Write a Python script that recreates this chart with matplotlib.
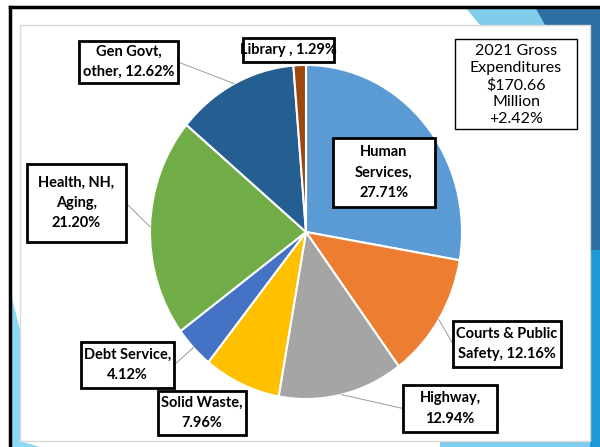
import matplotlib

matplotlib.use("Agg")
import matplotlib.pyplot as plt
import numpy as np
from matplotlib.patches import Polygon, Rectangle

# data
names = ["Human\nServices", "Courts & Public\nSafety", "Highway", "Solid Waste",
         "Debt Service", "Health, NH,\nAging", "Gen Govt,\nother", "Library "]
seps = ["\n", " ", "\n", "\n", "\n", "\n", " ", " "]
shares = [27.71, 12.16, 12.94, 7.96, 4.12, 21.20, 12.62, 1.29]
colors = ["#5B9BD5", "#ED7D31", "#A5A5A5", "#FFC000",
          "#4472C4", "#70AD47", "#255E91", "#9E480E"]
# label boxes in screen pixels: left, top, right, bottom
boxes = [(333, 138, 435, 207), (453, 321, 561, 367), (403, 385, 497, 432),
         (158, 391, 246, 435), (81, 342, 174, 388), (27, 164, 126, 242),
         (79, 41, 178, 83), (243, 38, 334, 62)]
leaders = [False, True, True, False, True, True, True, False]
note = "2021 Gross\nExpenditures\n$170.66\nMillion\n+2.42%"

W, H = 600, 447
fig = plt.figure(figsize=(W / 100, H / 100), dpi=100)
fig.patch.set_facecolor("white")


def fx(x):
    return x / W


def fy(y):
    return 1 - y / H


def prect(l, t, r, b, **kw):
    fig.patches.append(Rectangle((fx(l), fy(b)), fx(r - l), (b - t) / H,
                                 transform=fig.transFigure, **kw))


def ppoly(pts, **kw):
    fig.patches.append(Polygon([(fx(x), fy(y)) for x, y in pts], closed=True,
                               transform=fig.transFigure, **kw))


# slide background decoration
ppoly([(465, 7), (600, 7), (600, 447), (440, 447), (440, 441), (590, 441), (590, 25), (480, 25)],
      fc="#7FCCEB", ec="none", zorder=0)
ppoly([(535, 7), (600, 7), (600, 447), (590, 447), (590, 25), (545, 25)],
      fc="#2E6FA3", ec="none", zorder=0)
ppoly([(590, 250), (600, 250), (600, 447), (590, 447)], fc="#1F9AD6", ec="none", zorder=0)
ppoly([(10, 290), (20, 330), (20, 441), (40, 447), (10, 447)], fc="#8DD8F3", ec="none", zorder=0)
fig.add_artist(plt.Line2D([fx(10), fx(10)], [fy(447), fy(7)], color="black", lw=2.5,
                          transform=fig.transFigure))
fig.add_artist(plt.Line2D([fx(10), fx(600)], [fy(7), fy(7)], color="black", lw=2.5,
                          transform=fig.transFigure))
prect(20, 25, 590, 441, fc="white", ec="#D9D9D9", lw=1, zorder=1)

# pie (slightly stretched vertically like the screenshot)
ax = fig.add_axes([fx(150), fy(399), fx(462 - 150), (399 - 65) / H])
wedges, _ = ax.pie(shares, colors=colors, startangle=90, counterclock=False,
                   wedgeprops=dict(edgecolor="white", linewidth=1.5))
ax.set_aspect("auto")
ax.set_xlim(-1, 1)
ax.set_ylim(-1, 1)
ax.set_zorder(2)

font = "Lato"
for name, sep, val, w, (l, t, r, b), lead in zip(names, seps, shares, wedges, boxes, leaders):
    label = f"{name},{sep}{val:.2f}%"
    prect(l, t, r, b, fc="white", ec="black", lw=2, zorder=4)
    fig.text(fx((l + r) / 2), fy((t + b) / 2), label, ha="center", va="center",
             fontsize=10.5, fontweight="bold", family=font, linespacing=1.55, zorder=5)
    if lead:
        mid = np.deg2rad((w.theta1 + w.theta2) / 2)
        cx, cy = (l + r) / 2, (t + b) / 2
        # attach on the box side facing the pie
        if cx < 306:
            sx = r
        else:
            sx = l
        ax.annotate("", xy=(np.cos(mid), np.sin(mid)), xycoords="data",
                    xytext=(sx, H - cy), textcoords="figure pixels",
                    arrowprops=dict(arrowstyle="-", color="#A6A6A6", lw=0.8,
                                    shrinkA=0, shrinkB=0),
                    annotation_clip=False, zorder=3)

prect(455, 39, 577, 129, fc="white", ec="black", lw=1, zorder=4)
fig.text(fx(516), fy(85), note, ha="center", va="center", fontsize=11.5,
         family=font, linespacing=1.25, zorder=5)

fig.savefig("out.png", dpi=100)
